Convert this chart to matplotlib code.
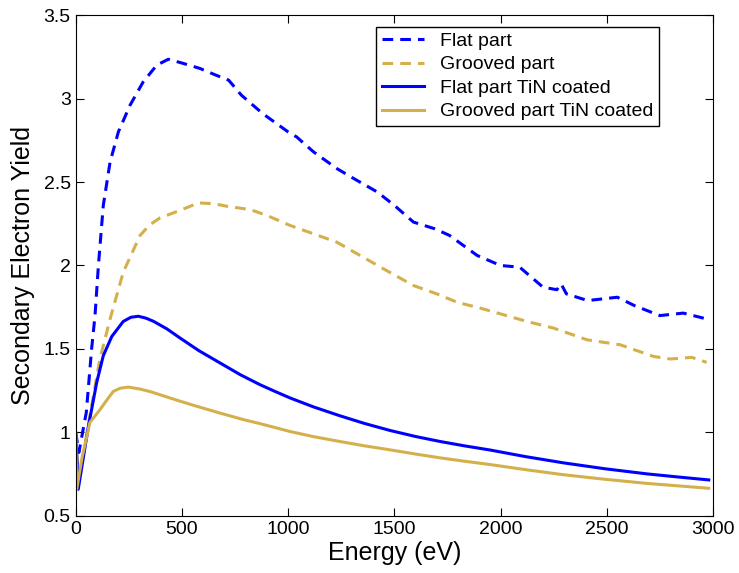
import matplotlib.pyplot as plt

plt.rcParams['font.family'] = ['Liberation Sans', 'DejaVu Sans']

# flat part (uncoated)
e_flat = [0, 15, 50, 75, 91, 107, 130, 162, 201, 256, 318, 382, 436, 507, 585, 660, 720,
          780, 880, 1000, 1040, 1120, 1230, 1310, 1420, 1500, 1590, 1690, 1760, 1890,
          2000, 2090, 2200, 2265, 2285, 2310, 2410, 2550, 2630, 2750, 2860, 2970]
y_flat = [1.00, 0.88, 1.12, 1.50, 1.70, 2.00, 2.36, 2.62, 2.80, 2.96, 3.10, 3.20, 3.235,
          3.21, 3.18, 3.14, 3.11, 3.02, 2.91, 2.80, 2.77, 2.68, 2.58, 2.52, 2.44, 2.36,
          2.26, 2.22, 2.18, 2.06, 2.00, 1.99, 1.87, 1.855, 1.89, 1.83, 1.79, 1.81, 1.76,
          1.70, 1.715, 1.68]

# grooved part (uncoated)
e_groove = [0, 15, 60, 114, 162, 224, 303, 350, 397, 491, 578, 650, 711, 821, 900, 1009,
            1229, 1449, 1590, 1700, 1795, 1904, 2014, 2124, 2250, 2407, 2564, 2721, 2800,
            2900, 2970]
y_groove = [0.98, 0.70, 1.05, 1.44, 1.68, 1.96, 2.18, 2.245, 2.285, 2.33, 2.375, 2.37,
            2.355, 2.335, 2.30, 2.24, 2.14, 1.98, 1.88, 1.83, 1.78, 1.745, 1.705, 1.665,
            1.625, 1.555, 1.525, 1.455, 1.44, 1.45, 1.42]

# flat part TiN coated
e_flat_tin = [0, 12, 59, 99, 130, 170, 224, 260, 295, 330, 366, 430, 491, 580, 680, 775,
              868, 940, 1009, 1120, 1244, 1360, 1480, 1600, 1716, 1830, 1951, 2120, 2297,
              2490, 2690, 2840, 2980]
y_flat_tin = [1.00, 0.66, 1.03, 1.30, 1.46, 1.575, 1.665, 1.69, 1.696, 1.685, 1.666, 1.62,
              1.566, 1.49, 1.416, 1.346, 1.286, 1.245, 1.207, 1.153, 1.100, 1.054, 1.012,
              0.976, 0.946, 0.92, 0.895, 0.855, 0.818, 0.783, 0.752, 0.733, 0.716]

# grooved part TiN coated
e_groove_tin = [0, 5, 30, 67, 114, 150, 177, 210, 248, 303, 350, 397, 470, 554, 680, 790,
                868, 940, 1009, 1120, 1244, 1360, 1480, 1600, 1716, 1830, 1951, 2120, 2297,
                2490, 2690, 2840, 2980]
y_groove_tin = [1.00, 0.66, 0.85, 1.06, 1.136, 1.20, 1.246, 1.265, 1.272, 1.26, 1.245,
                1.226, 1.196, 1.163, 1.116, 1.077, 1.053, 1.029, 1.006, 0.975, 0.946, 0.92,
                0.896, 0.871, 0.848, 0.828, 0.808, 0.777, 0.747, 0.72, 0.695, 0.68, 0.666]

blue = '#0000ff'
tan = '#d4b04c'

fig = plt.figure(figsize=(7.39, 5.73), dpi=100)
ax = fig.add_axes([0.1024, 0.0995, 0.8624, 0.8743])

ax.plot(e_flat, y_flat, '--', color=blue, lw=2.2, dashes=(3.5, 2.3), label='Flat part')
ax.plot(e_groove, y_groove, '--', color=tan, lw=2.2, dashes=(3.5, 2.3), label='Grooved part')
ax.plot(e_flat_tin, y_flat_tin, '-', color=blue, lw=2.2, label='Flat part TiN coated')
ax.plot(e_groove_tin, y_groove_tin, '-', color=tan, lw=2.2, label='Grooved part TiN coated')

ax.set_xlim(0, 3000)
ax.set_ylim(0.5, 3.5)
ax.set_xticks([0, 500, 1000, 1500, 2000, 2500, 3000])
ax.set_yticks([0.5, 1, 1.5, 2, 2.5, 3, 3.5])
ax.set_yticklabels(['0.5', '1', '1.5', '2', '2.5', '3', '3.5'])
ax.tick_params(direction='in', top=True, right=True, length=6, labelsize=14)

ax.set_xlabel('Energy (eV)', fontsize=18, labelpad=2)
ax.set_ylabel('Secondary Electron Yield', fontsize=18, labelpad=6)

leg = ax.legend(loc='upper left', bbox_to_anchor=(0.471, 0.977), fontsize=14,
                frameon=True, fancybox=False, edgecolor='black', framealpha=1,
                borderpad=0.3, labelspacing=0.3, handlelength=2.2, handletextpad=0.8,
                borderaxespad=0)
leg.get_frame().set_linewidth(1.0)

plt.savefig('out.png', dpi=100)
